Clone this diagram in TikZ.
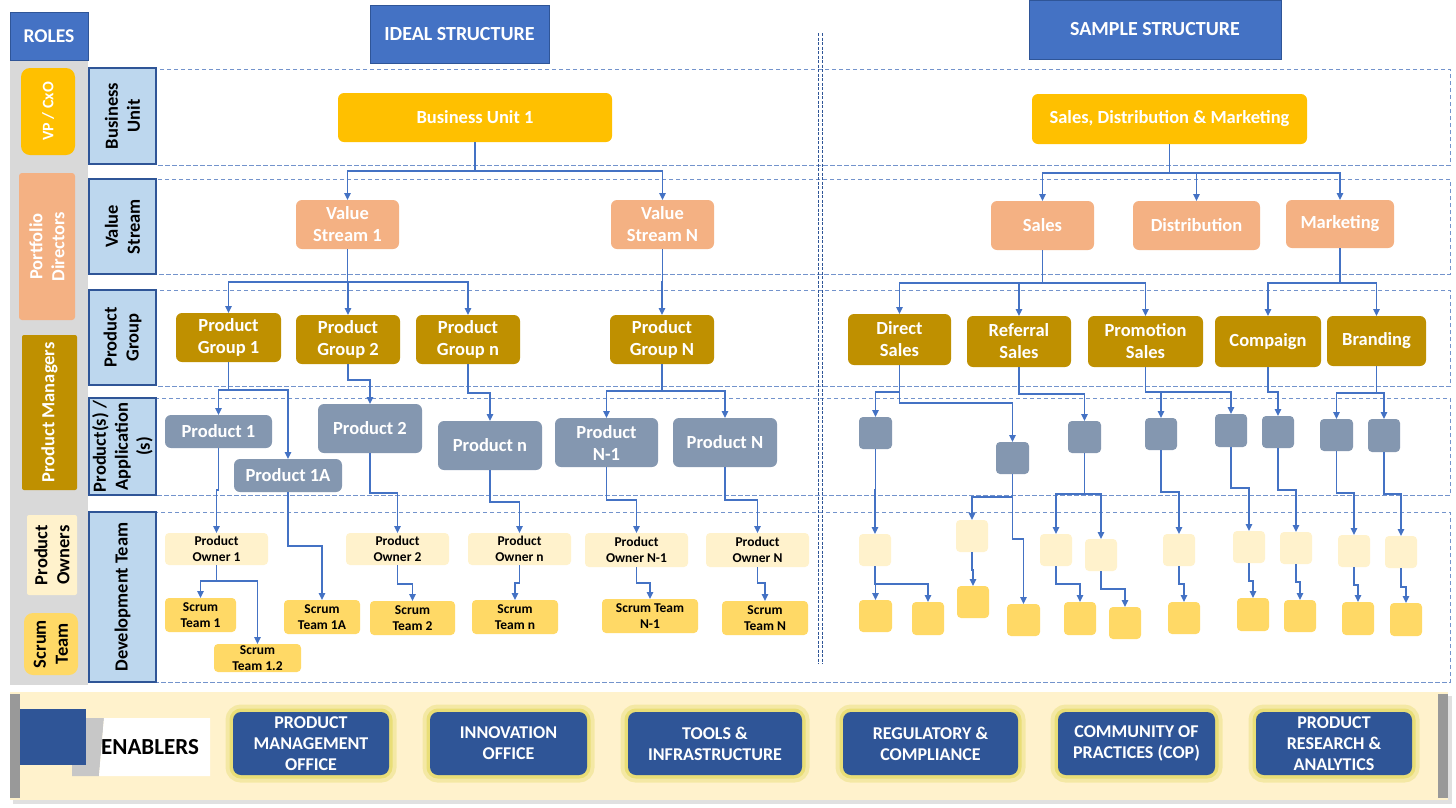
\documentclass[tikz,border=0pt]{standalone}
\usepackage{fontspec}
\setmainfont{Carlito}
\usetikzlibrary{arrows.meta}
\definecolor{tblue}{HTML}{4472C4}
\definecolor{dblue}{HTML}{2F5597}
\definecolor{gold}{HTML}{FFC000}
\definecolor{salmon}{HTML}{F4B183}
\definecolor{dgold}{HTML}{BF9000}
\definecolor{slate}{HTML}{8497B0}
\definecolor{cream}{HTML}{FFF2CC}
\definecolor{scrumc}{HTML}{FFD966}
\definecolor{lblue}{HTML}{BDD7EE}
\definecolor{lgray}{HTML}{D9D9D9}
\definecolor{bandc}{HTML}{7393CC}
\definecolor{glowc}{HTML}{E2D85A}
\newcommand\BX[7]{\node[#1,minimum width={#5-#3},minimum height={#6-#4}] (#2) at ({(#3+#5)/2},{(#4+#6)/2}) {#7};}
\newcommand\RBX[7]{\node[#1,rotate=90,minimum width={#6-#4},minimum height={#5-#3}] (#2) at ({(#3+#5)/2},{(#4+#6)/2}) {#7};}
\newcommand\EL[3]{\draw[conn] (#1.south) -- (#1.south |- 0,#2) -| (#3.north);}
\begin{document}
\begin{tikzpicture}[x=1pt,y=-1pt,
  bx/.style={inner sep=0pt,outer sep=0pt,align=center,font=\bfseries\fontsize{18.5}{22}\selectfont,rounded corners=6pt},
  goldbox/.style={bx,fill=gold,text=white},
  salbox/.style={bx,fill=salmon,text=white},
  dgbox/.style={bx,fill=dgold,text=white},
  slbox/.style={bx,fill=slate,text=white},
  pobox/.style={bx,fill=cream,text=black,font=\bfseries\fontsize{13.5}{16}\selectfont,rounded corners=4pt},
  scbox/.style={bx,fill=scrumc,text=black,font=\bfseries\fontsize{13.5}{16}\selectfont,rounded corners=4pt},
  lay/.style={bx,fill=lblue,draw=dblue,line width=1.2pt,rounded corners=0pt,text=black},
  ttl/.style={bx,fill=tblue,draw=dblue,line width=0.8pt,rounded corners=0pt,text=white,font=\bfseries\fontsize{20}{23}\selectfont},
  bandln/.style={draw=bandc,line width=0.9pt,dash pattern=on 4.5pt off 2.5pt},
  divl/.style={draw=dblue,line width=1pt,dash pattern=on 3pt off 1.5pt},
  conn/.style={draw=tblue,line width=1.3pt,-{Triangle[length=7pt,width=6.5pt]}},
  enab/.style={bx,fill=dblue,text=white,rounded corners=8pt,font=\bfseries\fontsize{18}{21}\selectfont,
    preaction={draw=glowc,draw opacity=0.35,line width=15pt},
    preaction={draw=glowc,draw opacity=0.6,line width=7pt}}
]
\useasboundingbox (0,0) rectangle (1456,807);
\fill[white] (0,0) rectangle (1456,807);
% bands
\foreach \a/\b in {69/165,179/274,290/386,398/495,512/682}
  \draw[bandln] (156,\a) rectangle (1450,\b);
\draw[divl] (818,33) -- (818,664);
\draw[divl] (822,33) -- (822,664);
% roles column
\fill[lgray] (10,60) rectangle (88,685);
\BX{ttl,font=\bfseries\fontsize{19.5}{22}\selectfont}{roles}{10}{12}{88}{60}{ROLES}
\RBX{bx,fill=gold,text=white,rounded corners=9pt,font=\bfseries\fontsize{16}{19}\selectfont}{rvp}{21}{68}{75}{155}{VP / CxO}
\RBX{bx,fill=salmon,text=white,rounded corners=3pt}{rpd}{19}{173}{75}{320}{Portfolio\\Directors}
\RBX{bx,fill=dgold,text=white,rounded corners=2pt}{rpm}{22}{335}{77}{490}{Product Managers}
\RBX{bx,fill=cream,text=black,rounded corners=2pt}{rpo}{27}{515}{77}{595}{Product\\Owners}
\RBX{bx,fill=scrumc,text=black,rounded corners=9pt}{rst}{24}{613}{78}{675}{Scrum\\Team}
% layer labels
\RBX{lay}{lbu}{89}{68}{156}{164}{Business\\Unit}
\RBX{lay}{lvs}{89}{179}{156}{274}{Value\\Stream}
\RBX{lay}{lpg}{89}{290}{156}{385}{Product\\Group}
\RBX{lay}{lpa}{89}{398}{156}{495}{Product(s) /\\Application\\(s)}
\RBX{lay}{ldt}{89}{512}{156}{682}{Development Team}
% titles
\BX{ttl}{ideal}{370}{5}{549}{63}{IDEAL STRUCTURE}
\BX{ttl}{sample}{1029}{0}{1281}{59}{SAMPLE STRUCTURE}
% ideal structure
\BX{goldbox}{bu1}{338}{93}{612}{142}{Business Unit 1}
\BX{salbox}{vs1}{296}{200}{399}{249}{Value\\Stream 1}
\BX{salbox}{vsN}{611}{200}{714}{249}{Value\\Stream N}
\BX{dgbox}{pg1}{176}{313}{281}{362}{Product\\Group 1}
\BX{dgbox}{pg2}{296}{315}{400}{364}{Product\\Group 2}
\BX{dgbox}{pgn}{416}{315}{520}{364}{Product\\Group n}
\BX{dgbox}{pgN}{610}{315}{714}{364}{Product\\Group N}
\BX{slbox}{p1}{165}{415}{272}{448}{Product 1}
\BX{slbox}{p1a}{234}{459}{342}{492}{Product 1A}
\BX{slbox}{p2}{318}{404}{422}{453}{Product 2}
\BX{slbox}{pn}{438}{421}{542}{470}{Product n}
\BX{slbox}{pN1}{555}{418}{658}{467}{Product\\N-1}
\BX{slbox}{pN}{673}{418}{777}{467}{Product N}
\BX{pobox}{po1}{165}{533}{268}{565}{Product\\Owner 1}
\BX{pobox}{po2}{346}{533}{449}{565}{Product\\Owner 2}
\BX{pobox}{pon}{468}{533}{571}{565}{Product\\Owner n}
\BX{pobox}{poN1}{585}{533}{688}{567}{Product\\Owner N-1}
\BX{pobox}{poN}{706}{533}{809}{567}{Product\\Owner N}
\BX{scbox}{st1}{165}{598}{236}{632}{Scrum\\Team 1}
\BX{scbox}{st12}{214}{644}{301}{672}{Scrum\\Team 1.2}
\BX{scbox}{st1a}{284}{600}{360}{634}{Scrum\\Team 1A}
\BX{scbox}{st2}{370}{601}{455}{635}{Scrum\\Team 2}
\BX{scbox}{stn}{472}{600}{558}{634}{Scrum\\Team n}
\BX{scbox}{stN1}{602}{599}{698}{633}{Scrum Team\\N-1}
\BX{scbox}{stN}{722}{601}{808}{635}{Scrum\\Team N}
% ideal connectors
\EL{bu1}{171}{vs1} \EL{bu1}{171}{vsN}
\EL{vs1}{282}{pg1} \EL{vs1}{282}{pg2} \EL{vs1}{282}{pgn}
\EL{vsN}{282}{pgN}
\EL{pg1}{390}{p1} \EL{pg1}{390}{p1a}
\EL{pg2}{380}{p2}
\EL{pgn}{393}{pn}
\EL{pgN}{391}{pN1} \EL{pgN}{391}{pN}
\EL{p1}{490}{po1}
\EL{p1a}{546}{st1a}
\EL{p2}{493}{po2}
\EL{pn}{502}{pon}
\EL{pN1}{500}{poN1}
\EL{pN}{500}{poN}
\EL{po1}{581}{st1} \EL{po1}{581}{st12}
\EL{po2}{584}{st2}
\EL{pon}{583}{stn}
\EL{poN1}{583}{stN1}
\EL{poN}{583}{stN}
% sample structure
\BX{goldbox}{sdm}{1032}{94}{1307}{144}{Sales, Distribution \& Marketing}
\BX{salbox}{sales}{991}{201}{1094}{250}{Sales}
\BX{salbox}{dist}{1133}{201}{1260}{250}{Distribution}
\BX{salbox}{mkt}{1286}{200}{1394}{248}{Marketing}
\BX{dgbox}{dsales}{848}{314}{951}{365}{Direct\\Sales}
\BX{dgbox}{rsales}{967}{316}{1071}{367}{Referral\\Sales}
\BX{dgbox}{psales}{1088}{316}{1203}{367}{Promotion\\Sales}
\BX{dgbox}{comp}{1215}{316}{1321}{367}{Compaign}
\BX{dgbox}{brand}{1327}{316}{1426}{366}{Branding}
\BX{slbox,rounded corners=4pt}{g1}{859}{417}{892}{449}{}
\BX{slbox,rounded corners=4pt}{g2}{996}{442}{1029}{474}{}
\BX{slbox,rounded corners=4pt}{g3}{1068}{421}{1101}{453}{}
\BX{slbox,rounded corners=4pt}{g4}{1145}{418}{1177}{450}{}
\BX{slbox,rounded corners=4pt}{g5}{1215}{414}{1247}{447}{}
\BX{slbox,rounded corners=4pt}{g6}{1262}{416}{1294}{448}{}
\BX{slbox,rounded corners=4pt}{g7}{1320}{419}{1353}{451}{}
\BX{slbox,rounded corners=4pt}{g8}{1368}{419}{1400}{452}{}
\BX{pobox}{q1}{859}{534}{891}{566}{}
\BX{pobox}{q2}{956}{520}{988}{552}{}
\BX{pobox}{q3}{1040}{534}{1072}{566}{}
\BX{pobox}{q4}{1085}{539}{1117}{571}{}
\BX{pobox}{q5}{1163}{534}{1195}{566}{}
\BX{pobox}{q6}{1233}{531}{1265}{563}{}
\BX{pobox}{q7}{1280}{532}{1312}{564}{}
\BX{pobox}{q8}{1338}{535}{1370}{567}{}
\BX{pobox}{q9}{1385}{536}{1417}{568}{}
\BX{scbox}{s1}{859}{600}{892}{632}{}
\BX{scbox}{s2}{912}{602}{944}{635}{}
\BX{scbox}{s3}{957}{586}{989}{618}{}
\BX{scbox}{s4}{1007}{604}{1040}{636}{}
\BX{scbox}{s5}{1064}{602}{1096}{635}{}
\BX{scbox}{s6}{1109}{607}{1141}{639}{}
\BX{scbox}{s7}{1168}{602}{1200}{634}{}
\BX{scbox}{s8}{1237}{598}{1269}{631}{}
\BX{scbox}{s9}{1284}{600}{1316}{632}{}
\BX{scbox}{s10}{1342}{602}{1374}{635}{}
\BX{scbox}{s11}{1390}{603}{1422}{636}{}
% sample connectors
\EL{sdm}{173}{sales} \EL{sdm}{173}{dist} \EL{sdm}{173}{mkt}
\EL{sales}{283}{dsales} \EL{sales}{283}{rsales} \EL{sales}{283}{psales}
\EL{mkt}{283}{comp} \EL{mkt}{283}{brand}
\EL{dsales}{392}{g1} \EL{dsales}{403}{g2}
\EL{rsales}{394}{g3}
\EL{psales}{392}{g4} \EL{psales}{392}{g5}
\EL{comp}{392}{g6}
\EL{brand}{393}{g7} \EL{brand}{393}{g8}
\EL{g1}{490}{q1}
\EL{g2}{497}{q2} \EL{g2}{539}{s4}
\EL{g3}{494}{q3} \EL{g3}{494}{q4}
\EL{g4}{492}{q5}
\EL{g5}{488}{q6}
\EL{g6}{490}{q7}
\EL{g7}{493}{q8}
\EL{g8}{494}{q9}
\EL{q1}{584}{s1} \EL{q1}{584}{s2}
\EL{q2}{570}{s3}
\EL{q3}{584}{s5}
\EL{q4}{589}{s6}
\EL{q5}{584}{s7}
\EL{q6}{581}{s8}
\EL{q7}{582}{s9}
\EL{q8}{585}{s10}
\EL{q9}{587}{s11}
% enablers
\fill[black!12] (13,696) rectangle (1452,804);
\fill[cream] (10,692) rectangle (1448,800);
\fill[black!40] (10,694) rectangle (20,798);
\fill[black!40] (1438,694) rectangle (1448,798);
\fill[dblue] (20,709) rectangle (86,765);
\fill[black!22] (86,718) -- (104,718) -- (99,776) -- (72,776) -- (72,765) -- (86,765) -- cycle;
\fill[white] (104,718) -- (210,718) -- (210,776) -- (99,776) -- cycle;
\node[bx,text=black,font=\bfseries\fontsize{23}{26}\selectfont] (enl) at (150,747) {ENABLERS};
\BX{enab}{e1}{233}{712}{389}{775}{PRODUCT\\MANAGEMENT\\OFFICE}
\BX{enab}{e2}{430}{712}{587}{775}{INNOVATION\\OFFICE}
\BX{enab}{e3}{628}{712}{802}{775}{TOOLS \&\\INFRASTRUCTURE}
\BX{enab}{e4}{843}{712}{1018}{775}{REGULATORY \&\\COMPLIANCE}
\BX{enab}{e5}{1058}{712}{1215}{775}{COMMUNITY OF\\PRACTICES (COP)}
\BX{enab}{e6}{1256}{712}{1412}{775}{PRODUCT\\RESEARCH \&\\ANALYTICS}
\end{tikzpicture}
\end{document}
